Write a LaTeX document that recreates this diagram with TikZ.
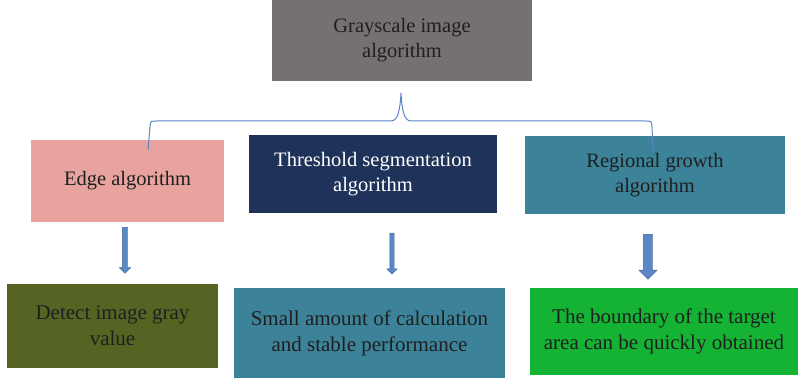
\documentclass[tikz,border=0pt]{standalone}
\usepackage{fontspec}
\setmainfont{Liberation Serif}
\usetikzlibrary{positioning, shapes.arrows}
\definecolor{topgray}{HTML}{767171}
\definecolor{pinkbox}{HTML}{E8A39F}
\definecolor{navybox}{HTML}{1F3259}
\definecolor{tealbox}{HTML}{3C8399}
\definecolor{olivebox}{HTML}{556423}
\definecolor{greenbox}{HTML}{14B334}
\definecolor{arrowblue}{HTML}{5B87C5}
\definecolor{arrowedge}{HTML}{41659A}
\definecolor{bracecol}{HTML}{5A86C6}

\begin{document}
\begin{tikzpicture}[
    x=1pt, y=-1pt,
    box/.style={rectangle, inner sep=2pt, align=center, text=black!88, font=\fontsize{20.5}{25}\selectfont},
    lowbox/.style={box, font=\fontsize{21}{26}\selectfont},
    downarrow/.style={single arrow, draw=arrowedge, fill=arrowblue, rotate=-90, inner sep=0pt, single arrow head extend=2.5pt},
    brace/.style={draw=bracecol, line width=1pt}
]
\useasboundingbox (0,0) rectangle (798,379);

\node[box, fill=topgray, minimum width=260pt, minimum height=81pt] (gray) at (402,40.5) {Grayscale image\\algorithm};

\node[box, fill=pinkbox, minimum width=193pt, minimum height=82pt] (edge) at (127.5,181) {Edge algorithm};
\node[box, fill=navybox, text=white, minimum width=248pt, minimum height=78pt] (thresh) at (373,174) {Threshold segmentation\\algorithm};
\node[box, fill=tealbox, minimum width=260pt, minimum height=78pt] (region) at (655,175) {Regional growth\\algorithm};

\node[lowbox, fill=olivebox, minimum width=211pt, minimum height=84pt] (detect) at (112.5,326) {Detect image gray\\value};
\node[lowbox, fill=tealbox, minimum width=271pt, minimum height=90pt] (small) at (369.5,333) {Small amount of calculation\\and stable performance};
\node[lowbox, fill=greenbox, minimum width=268pt, minimum height=87pt] (bound) at (664,331.5) {The boundary of the target\\area can be quickly obtained};

% block arrows
\node[downarrow, minimum height=46pt, minimum width=11pt, single arrow head extend=3pt] (arr1) at (125,249) {\rule{0pt}{5pt}};
\node[downarrow, minimum height=41pt, minimum width=10pt, single arrow head extend=3pt] (arr2) at (392,252.5) {\rule{0pt}{4pt}};
\node[downarrow, minimum height=45pt, minimum width=18pt, single arrow head extend=4.5pt] (arr3) at (648,254.5) {\rule{0pt}{9pt}};

% brace
\coordinate (bl) at (148,150);
\coordinate (bt) at (401,93);
\coordinate (br) at (653,150);
\draw[brace] (bl) -- (150,127) .. controls (150.5,121) .. (157,121) -- (391,121) .. controls (398,121) and (400,110) .. (bt)
  .. controls (402,110) and (404,121) .. (411,121) -- (645,121) .. controls (651.5,121) .. (652,127) -- (br);

\end{tikzpicture}
\end{document}
